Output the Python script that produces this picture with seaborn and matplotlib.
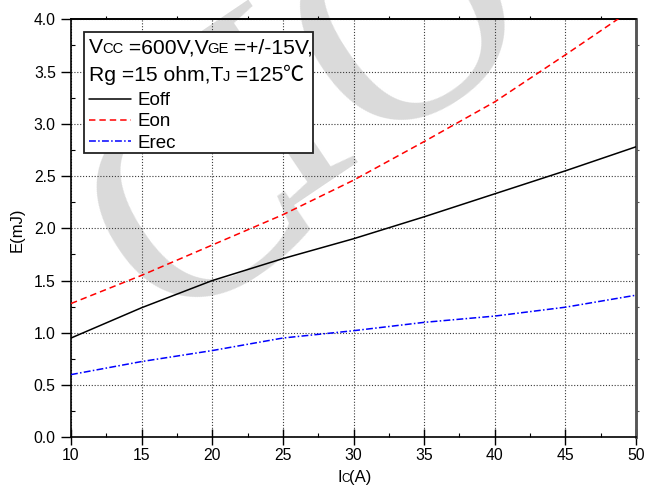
import numpy as np
import pandas as pd
import matplotlib
matplotlib.use("Agg")
import matplotlib.pyplot as plt
import seaborn as sns
from matplotlib.patches import Rectangle
from matplotlib.ticker import MultipleLocator, FormatStrFormatter

# ---------------- data ----------------
ic = [10, 15, 20, 25, 30, 35, 40, 45, 50]
eoff = [0.95, 1.24, 1.50, 1.71, 1.90, 2.11, 2.33, 2.55, 2.78]
eon = [1.28, 1.55, 1.84, 2.13, 2.46, 2.83, 3.21, 3.66, 4.12]
erec = [0.60, 0.725, 0.83, 0.95, 1.02, 1.10, 1.16, 1.245, 1.36]
series_names = ["Eoff", "Eon", "Erec"]
x_ticks = [10, 15, 20, 25, 30, 35, 40, 45, 50]
y_ticks = [0.0, 0.5, 1.0, 1.5, 2.0, 2.5, 3.0, 3.5, 4.0]

sns.set_theme(style="white")
plt.rcParams["font.family"] = ["Liberation Sans", "DejaVu Sans"]

W, H = 649, 487
fig = plt.figure(figsize=(W / 100, H / 100), dpi=100)
fig.patch.set_facecolor("white")

# axes placement (pixels)
L, R, T, B = 71, 636, 19.3, 437.3
ax = fig.add_axes([L / W, 1 - B / H, (R - L) / W, (B - T) / H])
ax.set_facecolor("none")

# watermark letters behind everything (placed by their cap centre)
WM_SIZE, WM_ROT = 215, 34
em_px = WM_SIZE * 100 / 72
half_cap = 0.662 * em_px / 2
sr, cr = np.sin(np.radians(WM_ROT)), np.cos(np.radians(WM_ROT))
for ch, (px, py) in [("C", (188, 192)), ("I", (268, 96)), ("O", (400, 8))]:
    bx, by = px + half_cap * sr, py + half_cap * cr
    fig.text(bx / W, 1 - by / H, ch, fontsize=WM_SIZE, color="#dadada",
             rotation=WM_ROT, ha="center", va="baseline",
             rotation_mode="anchor", family="Liberation Serif", zorder=-1)

df = pd.DataFrame({
    "Ic": ic * 3,
    "E": eoff + eon + erec,
    "series": [s for s in series_names for _ in ic],
})
palette = {"Eoff": "black", "Eon": "#ff0000", "Erec": "#0000ff"}
dashes = {"Eoff": "", "Eon": (4.2, 2.6), "Erec": (4.5, 1.5, 1.0, 1.5)}
sns.lineplot(data=df, x="Ic", y="E", hue="series", style="series",
             hue_order=series_names, style_order=series_names,
             palette=palette, dashes=dashes, linewidth=1.1,
             legend=False, ax=ax, zorder=3)

ax.set_xlim(10, 50)
ax.set_ylim(0, 4)
ax.set_xticks(x_ticks)
ax.set_yticks(y_ticks)
ax.xaxis.set_minor_locator(MultipleLocator(2.5))
ax.yaxis.set_minor_locator(MultipleLocator(0.25))
ax.xaxis.set_major_formatter(FormatStrFormatter("%d"))
ax.yaxis.set_major_formatter(FormatStrFormatter("%.1f"))

ax.tick_params(axis="x", which="major", direction="inout", length=11, width=1,
               color="black", pad=2, labelsize=11.3, labelcolor="black",
               bottom=True, top=False)
ax.tick_params(axis="x", which="minor", direction="in", length=3, width=0.8,
               color="black", bottom=True, top=False)
ax.tick_params(axis="y", which="major", direction="out", length=7, width=1,
               color="black", pad=4, labelsize=11.3, labelcolor="black",
               left=True, right=False)
ax.tick_params(axis="y", which="minor", direction="in", length=3, width=0.8,
               color="black", left=True, right=False)

ax.grid(True, which="major", color="#3a3a3a", linestyle=(0, (1, 1.6)),
        linewidth=0.8)
ax.set_axisbelow(True)
ax.set_xlabel("")
ax.set_ylabel("")

for s in ["left", "bottom", "top"]:
    ax.spines[s].set_color("black")
    ax.spines[s].set_linewidth(1.2)
    ax.spines[s].set_visible(True)
ax.spines["right"].set_visible(True)
ax.spines["right"].set_color("#555555")
ax.spines["right"].set_linewidth(1.8)

# top / right minor ticks
secx = ax.secondary_xaxis("top")
secx.set_xticks(x_ticks)
secx.xaxis.set_minor_locator(MultipleLocator(2.5))
secx.tick_params(which="major", length=0, labeltop=False)
secx.tick_params(which="minor", direction="out", length=2.5, width=0.8, color="black")
secx.spines["top"].set_linewidth(1.2)
secx.spines["top"].set_color("black")
secy = ax.secondary_yaxis("right")
secy.set_yticks(y_ticks)
secy.yaxis.set_minor_locator(MultipleLocator(0.25))
secy.tick_params(which="major", length=0, labelright=False)
secy.tick_params(which="minor", direction="out", length=2.5, width=0.8, color="#555555")
secy.spines["right"].set_linewidth(1.8)
secy.spines["right"].set_color("#555555")

renderer = fig.canvas.get_renderer()


def rich(x_px, y_px, pieces, ha="left", zorder=6, tighten=1.0):
    texts, widths = [], []
    for s, size, fam in pieces:
        t = fig.text(0, 0, s, fontsize=size, family=fam, va="baseline",
                     ha="left", color="black", zorder=zorder)
        texts.append(t)
        widths.append(t.get_window_extent(renderer).width - tighten)
    total = sum(widths)
    x0 = x_px - total / 2 if ha == "center" else x_px
    for t, w in zip(texts, widths):
        t.set_position((x0 / W, 1 - y_px / H))
        x0 += w


SANS = ["Liberation Sans", "DejaVu Sans"]
CJK = ["Noto Sans CJK SC", "DejaVu Sans"]

# axis labels
rich(354, 482, [("I", 12, SANS), ("C", 8.5, SANS), ("(A)", 12, SANS)], ha="center")
fig.text(17 / W, 1 - 230 / H, "E(mJ)", fontsize=12, rotation=90,
         ha="center", va="center", color="black")

# legend box
fig.add_artist(Rectangle((84.1 / W, 1 - 153.3 / H), (313.4 - 84.1) / W,
                         (153.3 - 31.7) / H, transform=fig.transFigure,
                         facecolor="white", edgecolor="#222222",
                         linewidth=1.3, zorder=4))
BIG, SMALL = 15.2, 10.6
rich(89.3, 53.3, [("V", BIG, SANS), ("CC", SMALL, SANS), (" =600V,V", BIG, SANS),
                  ("GE", SMALL, SANS), (" =+/-15V,", BIG, SANS)], tighten=1.0)
rich(89.3, 81, [("Rg =15 ohm,T", BIG, SANS), ("J", SMALL, SANS),
                (" =125", BIG, SANS), ("\u2103", BIG, CJK)], tighten=0.5)

handles = ax.lines[:3]
leg = fig.legend(handles, series_names, loc="upper left",
                 bbox_to_anchor=(89.3 / W, 1 - 92.0 / H),
                 bbox_transform=fig.transFigure, frameon=False,
                 borderpad=0, borderaxespad=0, handlelength=2.2,
                 handletextpad=0.35, labelspacing=0.22, fontsize=13.5)
leg.set_zorder(6)
for t in leg.get_texts():
    t.set_color("black")

fig.savefig("out.png", dpi=100, facecolor="white")
